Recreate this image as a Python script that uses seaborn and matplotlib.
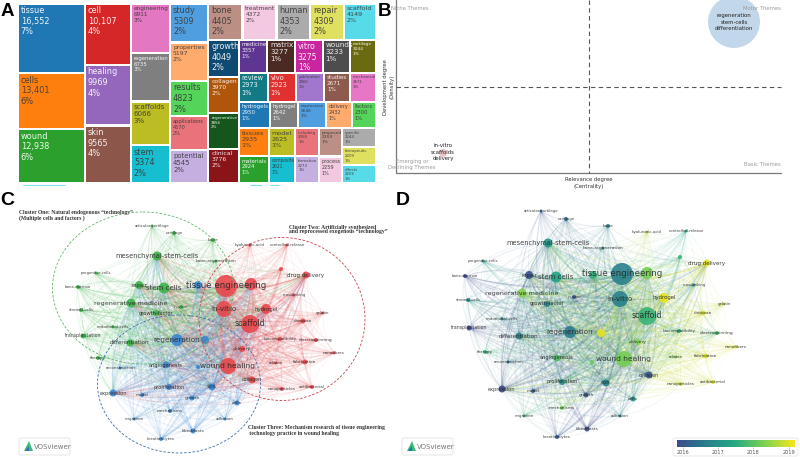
import numpy as np
import pandas as pd
import matplotlib
matplotlib.use("Agg")
import matplotlib.pyplot as plt
from matplotlib.collections import LineCollection
from matplotlib.colors import LinearSegmentedColormap, to_rgb
from matplotlib.patches import Ellipse, FancyBboxPatch, Polygon, Rectangle
import seaborn as sns

sns.set_theme(style="white")
plt.rcParams["font.family"] = ["DejaVu Sans"]

# ── PANEL A: TREEMAP DATA ─────────────────────────────────────
words = ["tissue", "cells", "wound", "cell", "healing", "skin",
         "engineering", "regeneration", "scaffolds", "stem",
         "study", "properties", "results", "applications", "potential",
         "bone", "treatment", "human", "repair", "scaffold",
         "growth", "collagen", "regenerative", "clinical",
         "medicine", "matrix", "vitro", "wounds", "cartilage",
         "review", "vivo", "publication", "studies", "mechanical",
         "hydrogels", "hydrogel", "expression", "delivery", "factors",
         "tissues", "materials", "model", "composite",
         "including", "formation", "proposed", "process",
         "specific", "therapeutic", "effects"]
counts = [16552, 13401, 12938, 10107, 9969, 9565,
          6911, 6735, 6066, 5374,
          5309, 5197, 4823, 4570, 4545,
          4405, 4372, 4353, 4309, 4149,
          4049, 3970, 3856, 3776,
          3357, 3277, 3275, 3233, 3044,
          2973, 2923, 2866, 2671, 2671,
          2950, 2642, 2646, 2432, 2300,
          2935, 2924, 2625, 2621,
          2358, 2273, 2359, 2259,
          2244, 2209, 2206]
shares = [7, 6, 6, 4, 4, 4,
          3, 3, 3, 2,
          2, 2, 2, 2, 2,
          2, 2, 2, 2, 2,
          2, 2, 2, 2,
          1, 1, 1, 1, 1,
          1, 1, 1, 1, 1,
          1, 1, 1, 1, 1,
          1, 1, 1, 1,
          1, 1, 1, 1,
          1, 1, 1]
tile_colors = ["#1f77b4", "#ff7f0e", "#2ca02c", "#d62728", "#9467bd", "#8c564b",
               "#e377c2", "#7f7f7f", "#bcbd22", "#17becf",
               "#4f9fe0", "#ffab6e", "#55d45a", "#e8737a", "#c5aee0",
               "#bc8f85", "#f2c9e0", "#ababab", "#e0e060", "#58dbe8",
               "#0f4a72", "#b0560a", "#14561b", "#8a1518",
               "#5e3590", "#4a2a22", "#c9259f", "#4d4d4d", "#6a6a10",
               "#127a85", "#e03030", "#a077cc", "#8e5a4d", "#e577c6",
               "#1f77b4", "#7f7f7f", "#4f9fe0", "#ffab6e", "#55d45a",
               "#ff7f0e", "#2ca02c", "#bcbd22", "#17becf",
               "#e8737a", "#c5aee0", "#bc8f85", "#f2c9e0",
               "#ababab", "#e0e060", "#58dbe8"]

# nesting of the tiles: "h" splits across, "v" splits down
tile_groups = ("h", [
    ("v", ["tissue", "cells", "wound"]),
    ("v", ["cell", "healing", "skin"]),
    ("v", ["engineering", "regeneration", "scaffolds", "stem"]),
    ("v", ["study", "properties", "results", "applications", "potential"]),
    ("v", [
        ("h", ["bone", "treatment", "human", "repair", "scaffold"]),
        ("h", [
            ("v", ["growth", "collagen", "regenerative", "clinical"]),
            ("v", [
                ("h", ["medicine", "matrix", "vitro", "wounds", "cartilage"]),
                ("h", ["review", "vivo", "publication", "studies", "mechanical"]),
                ("h", ["hydrogels", "hydrogel", "expression", "delivery", "factors"]),
                ("h", [
                    ("v", ["tissues", "materials"]),
                    ("v", ["model", "composite"]),
                    ("v", ["including", "formation"]),
                    ("v", ["proposed", "process"]),
                    ("v", ["specific", "therapeutic", "effects"]),
                ]),
            ]),
        ]),
    ]),
])

# ── PANEL B: THEME MAP DATA ───────────────────────────────────
theme_x = [734, 443]
theme_y = [22, 153]
theme_area = [1400, 33]
theme_colors = ["#c3d7ea", "#f0c4c8"]
theme_labels = ["regeneration\nstem-cells\ndifferentiation", "in-vitro\nscaffolds\ndelivery"]

# ── PANELS C/D: KEYWORD NETWORK DATA ──────────────────────────
node_names = ["articular-cartilage", "cartilage", "bone", "bone-regeneration", "mesenchymal-stem-cells",
              "progenitor-cells", "repair", "stem cells", "bone-marrow", "stromal-cells",
              "regenerative medicine", "growth-factor", "in-vivo", "endothelial-cells", "transplantation",
              "differentiation", "therapy",
              "regeneration", "angiogenesis", "reconstruction", "proliferation", "expression", "model",
              "growth", "mechanisms", "migration", "fibroblasts", "keratinocytes", "skin", "cells", "adhesion",
              "", "", "",
              "tissue engineering", "in-vitro", "scaffold", "hydrogel", "wound healing", "collagen", "delivery",
              "drug delivery", "crosslinking", "chitosan", "gelatin", "biocompatibility", "electrospinning",
              "nanofibers", "fabrication", "release", "nanoparticles", "antibacterial", "hyaluronic-acid",
              "controlled-release", "", ""]
node_cluster = [1]*17 + [3]*17 + [2]*22
node_radius = [1.5, 2, 2, 1.5, 4.5, 1.5, 4, 5.5, 2, 2,
               4.5, 3, 2, 1.5, 2.5, 3.5, 2,
               6, 3.5, 1.5, 3, 3.5, 2, 2.5, 2, 1.5, 2.5, 2, 3.5, 2.5, 1.5, 4, 4, 2,
               11, 8, 9, 5, 8, 3.5, 3, 3.5, 1.5, 2.5, 1.5, 2, 2, 1.5, 2.5, 1.5, 2, 2, 1.5, 1.5, 2, 6]
node_label_pt = [2.8, 2.8, 3.2, 3.2, 4.8, 2.8, 3.9, 5.0, 2.8, 2.8,
                 4.6, 3.7, 3.0, 2.8, 3.4, 4.1, 3.0,
                 5.2, 3.7, 3.0, 3.7, 3.7, 3.0, 3.2, 3.0, 2.8, 3.2, 3.0, 3.4, 3.2, 2.8, 4, 4, 2,
                 6.2, 5.2, 5.6, 3.9, 5.4, 3.4, 3.2, 4.1, 2.8, 3.2, 2.8, 3.0, 3.2, 3.0, 3.2, 2.8, 3.0, 3.0, 2.8, 2.8, 2, 2]
node_year = [2016.3, 2016.6, 2016.9, 2016.9, 2017.2, 2017.2, 2016.2, 2017.4, 2016.1, 2017.1,
             2018.3, 2016.9, 2016.3, 2016.9, 2016.1, 2016.9, 2017.7,
             2016.8, 2017.9, 2016.6, 2017.1, 2016.1, 2016.4, 2016.2, 2018.2, 2017.7, 2016.1, 2016.3, 2016.9, 2017.1, 2016.9,
             2017.6, 2018.9, 2018.1,
             2016.9, 2016.9, 2017.7, 2018.9, 2018.2, 2016.3, 2018.3,
             2018.9, 2017.0, 2018.8, 2018.7, 2017.5, 2017.8, 2018.9, 2018.8, 2018.2, 2018.7, 2018.8, 2018.6,
             2017.5, 2017.7, 2018.2]
net_c_x = [152, 174, 213, 216, 157, 96, 139, 164, 78, 81,
           131, 156, 181, 113, 83, 130, 98,
           177, 166, 120, 169, 113, 142, 192, 170, 134, 193, 161, 212, 237, 225, 198, 205, 198,
           226, 224, 250, 266, 228, 252, 242, 306, 294, 303, 323, 280, 316, 334, 305, 276, 282, 312, 250, 287, 281, 251]
net_c_y = [226, 233, 240, 261, 256, 273, 285, 288, 287, 310,
           303, 313, 307, 327, 336, 343, 358,
           340, 365, 368, 387, 393, 395, 398, 411, 419, 431, 439, 387, 403, 419, 285, 340, 367,
           286, 309, 324, 309, 366, 380, 349, 275, 295, 321, 313, 339, 340, 353, 362, 363, 389, 387, 245, 245, 269, 284]
net_d_x = [541, 566, 608, 603, 548, 483, 529, 556, 465, 468,
           522, 547, 574, 502, 469, 519, 485,
           570, 557, 508, 562, 502, 533, 586, 562, 524, 587, 557, 606, 633, 620, 593, 601, 592,
           622, 620, 647, 664, 624, 649, 638, 707, 694, 703, 724, 679, 717, 736, 706, 676, 681, 713, 647, 686, 680, 647]
net_d_y = [211, 219, 226, 248, 243, 261, 275, 277, 276, 300,
           293, 304, 297, 319, 328, 336, 352,
           332, 358, 362, 382, 389, 391, 395, 408, 416, 429, 437, 383, 399, 416, 275, 333, 362,
           274, 299, 316, 298, 359, 375, 342, 263, 285, 313, 304, 331, 333, 347, 356, 357, 384, 382, 232, 231, 257, 273]

cluster_colors = {1: "#3cb54a", 2: "#e8474c", 3: "#3b86cf"}
year_ticks = [2016, 2017, 2018, 2019]
year_cmap = LinearSegmentedColormap.from_list(
    "years", ["#40428c", "#2a788e", "#22a884", "#7ad151", "#f5e61e"])

fig = plt.figure(figsize=(8, 4.57), dpi=100)
fig.patch.set_facecolor("white")


def panel(x0, y0, x1, y1):
    # axes whose data units are pixels of the page
    ax = fig.add_axes([x0/800, 1 - y1/457, (x1-x0)/800, (y1-y0)/457])
    ax.set_xlim(x0, x1)
    ax.set_ylim(y1, y0)
    ax.axis("off")
    return ax


# ── DRAW PANEL A ──────────────────────────────────────────────
value_of = dict(zip(words, counts))


def group_total(node):
    if isinstance(node, str):
        return value_of[node]
    return sum(group_total(c) for c in node[1])


def split(node, x, y, w, h, out):
    if isinstance(node, str):
        out[node] = (x, y, w, h)
        return
    total = group_total(node)
    for child in node[1]:
        frac = group_total(child) / total
        if node[0] == "h":
            split(child, x, y, w*frac, h, out)
            x += w*frac
        else:
            split(child, x, y, w, h*frac, out)
            y += h*frac


ax_a = panel(0, 0, 385, 190)
tiles = {}
split(tile_groups, 18, 3.5, 358, 180, tiles)
for word, value, share, color in zip(words, counts, shares, tile_colors):
    x, y, w, h = tiles[word]
    ax_a.add_patch(Rectangle((x+1.1, y+1.1), w-2.2, h-2.2, facecolor=color, edgecolor="none"))
    r, g, b = to_rgb(color)
    lum = 0.299*r + 0.587*g + 0.114*b
    txt_color = "white" if lum < 0.52 else "#3a3a3a"
    em = min(8.2, (w-4) / (len(word)*0.55), (h-3) / 3.9)
    num = f"{value:,}" if value >= 10000 else str(value)
    ax_a.text(x+2.8, y+2.6, f"{word}\n{num}\n{share}%", color=txt_color, fontsize=em*0.72,
              va="top", ha="left", linespacing=1.22, alpha=0.92)
ax_a.hlines([184.5, 184.5, 184.5], [23, 250, 270], [65, 262, 279], color="#7fe3ee", lw=0.8)
ax_a.text(1, 16, "A", fontsize=13.5, fontweight="bold", family="Liberation Sans", color="black")

# ── DRAW PANEL B ──────────────────────────────────────────────
ax_b = panel(378, 0, 800, 190)
ax_b.text(378, 16, "B", fontsize=13.5, fontweight="bold", family="Liberation Sans", color="black")
themes = pd.DataFrame({"x": theme_x, "y": theme_y, "area": theme_area, "name": theme_labels})
sns.scatterplot(data=themes, x="x", y="y", size="area", sizes=(min(theme_area), max(theme_area)),
                hue="name", palette=theme_colors, legend=False, linewidth=0, ax=ax_b, clip_on=True)
ax_b.plot([396, 396], [0, 173], color="#777777", lw=0.9)
ax_b.plot([396, 781], [173, 173], color="#777777", lw=0.9)
ax_b.plot([396, 781], [87, 87], color="#555555", lw=0.8, ls=(0, (4, 3)))
ax_b.plot([589, 589], [0, 173], color="#555555", lw=0.8, ls=(0, (4, 3)))
for tx, ty, label in zip(theme_x, [22, 152], theme_labels):
    ax_b.text(tx, ty, label, ha="center", va="center", fontsize=3.9, color="#222222", linespacing=1.35)
clip_box = Rectangle((396, 0), 400, 190, transform=ax_b.transData)
for tx, ty, label, ha in [(410, 8, "Niche Themes", "center"), (781, 8, "Motor Themes", "right"),
                          (781, 165, "Basic Themes", "right"), (412, 164.5, "Emerging or\nDeclining Themes", "center")]:
    t = ax_b.text(tx, ty, label, ha=ha, va="center", fontsize=3.8, color="#9a9a9a", linespacing=1.35)
    t.set_clip_path(clip_box)
ax_b.text(589, 183, "Relevance degree\n(Centrality)", ha="center", va="center", fontsize=3.8,
          color="#333333", linespacing=1.35)
ax_b.text(389, 87, "Development degree\n(Density)", ha="center", va="center", rotation=90, fontsize=3.8,
          color="#333333", linespacing=1.35)
ax_b.set_xlim(378, 800)
ax_b.set_ylim(190, 0)

# ── DRAW PANELS C AND D ───────────────────────────────────────
radius = np.array(node_radius, dtype=float)
cluster = np.array(node_cluster)
hub_idx = np.where(radius >= 3)[0]


def edge_pairs(xs, ys):
    pairs = set()
    for i in range(len(xs)):
        for j in hub_idx:
            if i != j:
                pairs.add((min(i, j), max(i, j)))
        for j in range(len(xs)):
            near = np.hypot(xs[i]-xs[j], ys[i]-ys[j]) < 70
            if i < j and near:
                pairs.add((i, j))
    return sorted(pairs)


def draw_edges(ax, xs, ys, colors, alpha):
    t = np.linspace(0, 1, 12)[:, None]
    segs, cols, widths = [], [], []
    for i, j in edge_pairs(xs, ys):
        p0, p2 = np.array([xs[i], ys[i]]), np.array([xs[j], ys[j]])
        d = p2 - p0
        # bend each link a little, the way VOSviewer does
        ctrl = (p0 + p2)/2 + 0.15*np.array([-d[1], d[0]])
        segs.append((1-t)**2*p0 + 2*t*(1-t)*ctrl + t**2*p2)
        weight = min(radius[i], radius[j]) * max(radius[i], radius[j])**0.5
        a = alpha*min(1.0, 0.4 + weight/14)
        big = i if radius[i] < radius[j] else j
        cols.append((*to_rgb(colors[big]), a))
        widths.append(0.4 + weight/15)
    ax.add_collection(LineCollection(segs, colors=cols, linewidths=widths, zorder=1))


def draw_logo(ax, x0):
    ax.add_patch(FancyBboxPatch((x0+1, 438), 51, 17, boxstyle="round,pad=0,rounding_size=2",
                                facecolor="white", edgecolor="#e2e2e2", lw=0.6, zorder=5))
    ax.add_patch(Polygon([[x0+6, 451], [x0+11, 441], [x0+15, 451]], facecolor="#3dbb7a", edgecolor="none", zorder=6))
    ax.add_patch(Polygon([[x0+7, 451], [x0+11, 446], [x0+11, 451]], facecolor="#2a6fb0", edgecolor="none", zorder=7))
    ax.text(x0+16, 447, "VOSviewer", fontsize=5, color="#777777", va="center", zorder=6)


def node_frame(xs, ys):
    return pd.DataFrame({"x": xs, "y": ys, "area": (2*radius*0.72)**2,
                         "cluster": node_cluster, "year": node_year})


# panel C, colored by cluster
ax_c = panel(0, 190, 396, 457)
ax_c.text(0, 205, "C", fontsize=14, fontweight="bold", family="Liberation Sans", color="black")
draw_edges(ax_c, net_c_x, net_c_y, [cluster_colors[c] for c in node_cluster], 0.15)
sns.scatterplot(data=node_frame(net_c_x, net_c_y), x="x", y="y", size="area",
                sizes=((2*radius.min()*0.72)**2, (2*radius.max()*0.72)**2),
                hue="cluster", palette=cluster_colors, legend=False, linewidth=0, alpha=0.9,
                ax=ax_c, zorder=3)
for name, x, y, fs in zip(node_names, net_c_x, net_c_y, node_label_pt):
    if name:
        ax_c.text(x, y, name, fontsize=fs, ha="center", va="center", color="#222222", alpha=0.85, zorder=4)
for (cx, cy, w, h, angle), key in zip([(143, 288, 181, 152, 0), (282, 319, 166, 163, 0), (179, 384, 163, 138, 0)],
                                      [1, 2, 3]):
    edge = {1: "#5cb860", 2: "#c9404a", 3: "#3a6ea8"}[key]
    ax_c.add_patch(Ellipse((cx, cy), w, h, angle=angle, fill=False, edgecolor=edge, lw=0.6,
                           ls=(0, (3, 2)), zorder=4))
serif = dict(family="Liberation Serif", fontweight="bold", fontsize=4.1, color="#333333", va="center", linespacing=1.0)
ax_c.text(19, 215.5, "Cluster One: Natural endogenous \u201ctechnology\u201d\n(Multiple cells and factors )", **serif)
ax_c.text(289, 229.5, "Cluster Two: Artificially synthesized\nand reprocessed exogenous \u201ctechnology\u201d", **serif)
ax_c.text(248, 430.5, "Cluster Three: Mechanism research of tissue engineering\n technology practice in wound healing", **serif)
draw_logo(ax_c, 18)
ax_c.set_xlim(0, 396)
ax_c.set_ylim(457, 190)

# panel D, colored by average year
ax_d = panel(396, 190, 800, 457)
ax_d.text(396, 205, "D", fontsize=14, fontweight="bold", family="Liberation Sans", color="black")
year_norm = plt.Normalize(2016, 2019)
draw_edges(ax_d, net_d_x, net_d_y, [year_cmap(year_norm(v)) for v in node_year], 0.15)
sns.scatterplot(data=node_frame(net_d_x, net_d_y), x="x", y="y", size="area",
                sizes=((2*radius.min()*0.72)**2, (2*radius.max()*0.72)**2),
                hue="year", hue_norm=(2016, 2019), palette=year_cmap, legend=False, linewidth=0, alpha=0.9,
                ax=ax_d, zorder=3)
for name, x, y, fs in zip(node_names, net_d_x, net_d_y, node_label_pt):
    if name:
        ax_d.text(x, y, name, fontsize=fs, ha="center", va="center", color="#222222", alpha=0.85, zorder=4)
draw_logo(ax_d, 401)
ax_d.add_patch(FancyBboxPatch((673, 438), 125, 18, boxstyle="round,pad=0,rounding_size=2",
                              facecolor="white", edgecolor="#e6e6e6", lw=0.6, zorder=5))
gradient = np.linspace(2016, 2019.2, 256)[None, :]
ax_d.imshow(gradient, extent=(677, 795, 447, 440), aspect="auto", cmap=year_cmap,
            norm=plt.Normalize(2015.85, 2019.2), zorder=6)
for year, tick_x in zip(year_ticks, [683, 718, 753, 789]):
    ax_d.plot([tick_x, tick_x], [447, 448.5], color="#999999", lw=0.4, zorder=6)
    ax_d.text(tick_x, 452.5, str(year), fontsize=3.6, color="#555555", ha="center", va="center", zorder=6)
ax_d.set_xlim(396, 800)
ax_d.set_ylim(457, 190)

plt.savefig("out.png", dpi=100, facecolor="white")
plt.close()
